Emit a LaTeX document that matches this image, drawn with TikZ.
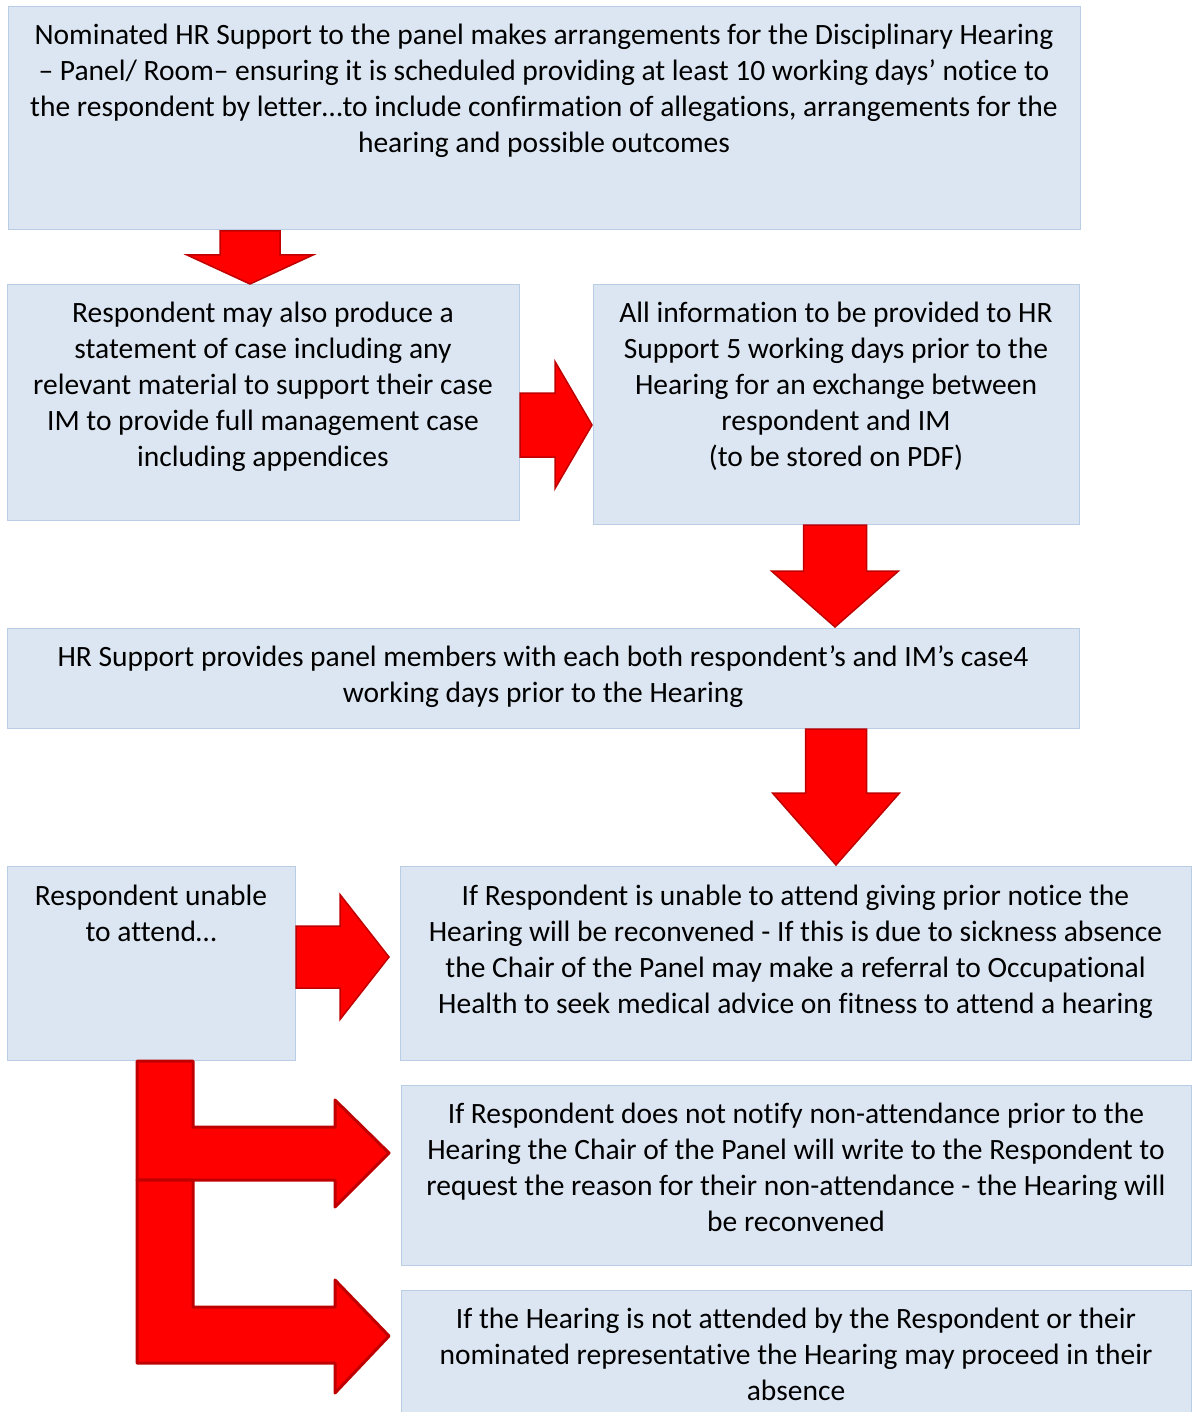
\documentclass[tikz,border=0pt]{standalone}
\usepackage{fontspec}
\setmainfont{Carlito}[Ligatures=NoCommon]
\definecolor{boxfill}{HTML}{DCE6F2}
\definecolor{boxline}{HTML}{B9CDE5}
\definecolor{arrowline}{HTML}{C00000}
\definecolor{arrowfill}{HTML}{FF0000}
\newcommand\boxtext[4]{\begin{minipage}[c][#2][t]{#1}\centering\fontsize{29.5}{36}\selectfont\vspace*{#3}\strut #4\end{minipage}}
% down block arrow: x, ytop, yneck, ytip, shaft half width, head half width
\newcommand\blkdown[6]{\draw[blockarrow] (#1-#5,#2) -- (#1+#5,#2) -- (#1+#5,#3) -- (#1+#6,#3) -- (#1,#4) -- (#1-#6,#3) -- (#1-#5,#3) -- cycle;}
% right block arrow: y, xleft, xneck, xtip, shaft half width, head half width
\newcommand\blkright[6]{\draw[blockarrow] (#2,#1-#5) -- (#3,#1-#5) -- (#3,#1-#6) -- (#4,#1) -- (#3,#1+#6) -- (#3,#1+#5) -- (#2,#1+#5) -- cycle;}
\tikzset{
  box/.style={draw=boxline, fill=boxfill, line width=1pt, inner sep=0pt},
  blockarrow/.style={fill=arrowfill, draw=arrowline, line width=1.5pt, line join=miter},
  bentarrow/.style={fill=arrowfill, draw=arrowline, line width=3pt, line join=round}
}
\begin{document}
\begin{tikzpicture}[x=1pt,y=-1pt]
\useasboundingbox (0,0) rectangle (1192,1412);
\clip (0,0) rectangle (1192,1412);
\fill[white] (0,0) rectangle (1192,1412);

\node[box] (n1) at (544,118.5) {\boxtext{1072pt}{223pt}{12pt}{Nominated HR Support to the panel makes arrangements for the Disciplinary Hearing\\
– Panel/ Room– ensuring it is scheduled providing at least 10 working days’ notice to\\
the respondent by letter…to include confirmation of allegations, arrangements for the\\
hearing and possible outcomes}};

\node[box] (n2) at (263,402.5) {\boxtext{512pt}{235pt}{12pt}{Respondent may also produce a\\
statement of case including any\\
relevant material to support their case\\
IM to provide full management case\\
including appendices}};

\node[box] (n3) at (836,404.5) {\boxtext{486pt}{239pt}{12pt}{All information to be provided to HR\\
Support 5 working days prior to the\\
Hearing for an exchange between\\
respondent and IM\\
(to be stored on PDF)}};

\node[box] (n4) at (543,678) {\boxtext{1072pt}{100pt}{13pt}{HR Support provides panel members with each both respondent’s and IM’s case4\\
working days prior to the Hearing}};

\node[box] (n5) at (151,963) {\boxtext{288pt}{194pt}{14pt}{Respondent unable\\
to attend…}};

\node[box] (n6) at (795.5,963) {\boxtext{791pt}{194pt}{14pt}{If Respondent is unable to attend giving prior notice the\\
Hearing will be reconvened - If this is due to sickness absence\\
the Chair of the Panel may make a referral to Occupational\\
Health to seek medical advice on fitness to attend a hearing}};

\node[box] (n7) at (796,1175) {\boxtext{790pt}{180pt}{13pt}{If Respondent does not notify non-attendance prior to the\\
Hearing the Chair of the Panel will write to the Respondent to\\
request the reason for their non-attendance - the Hearing will\\
be reconvened}};

\node[box] (n8) at (796,1357.5) {\boxtext{790pt}{135pt}{13pt}{If the Hearing is not attended by the Respondent or their\\
nominated representative the Hearing may proceed in their\\
absence}};

% straight block arrows
\blkdown{250}{231}{255}{284}{30}{63}
\blkright{425}{520}{555}{592}{32}{63.5}
\blkdown{835}{525}{571}{627}{31.5}{63.5}
\blkdown{836}{729}{793}{865}{30.5}{63.5}
\blkright{957}{296}{340}{389}{31}{62.5}

% bent arrows from "Respondent unable to attend"
\draw[bentarrow] (137,1180) -- (137,1061) -- (193,1061) -- (193,1127) -- (335,1127) -- (335,1100) -- (389,1153) -- (335,1207) -- (335,1180) -- cycle;
\draw[bentarrow] (137,1180) -- (193,1180) -- (193,1307) -- (335,1307) -- (335,1280) -- (389,1336) -- (335,1393) -- (335,1363) -- (137,1363) -- cycle;
\end{tikzpicture}
\end{document}
